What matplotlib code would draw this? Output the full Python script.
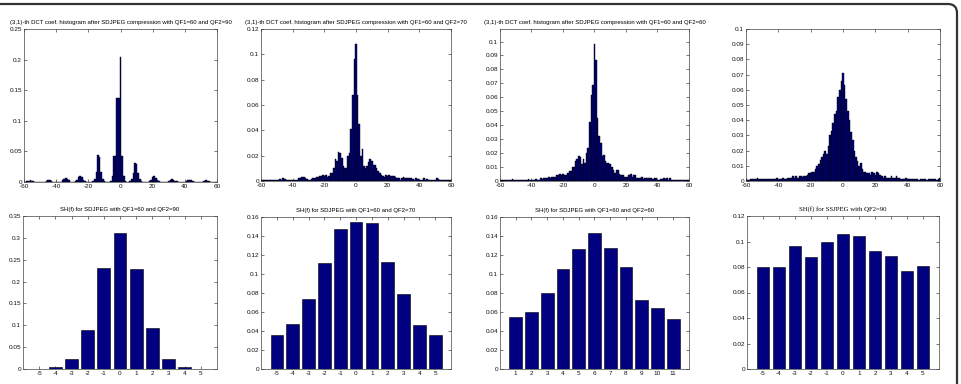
import matplotlib
matplotlib.use('Agg')
import matplotlib.pyplot as plt
import numpy as np
from matplotlib.patches import FancyBboxPatch
from matplotlib.transforms import IdentityTransform

plt.rcParams['font.family'] = ['Liberation Sans', 'DejaVu Sans']
plt.rcParams['axes.unicode_minus'] = False

W, H = 961, 384

## DATA: (3,1)-th DCT coefficient histograms, bins -60..60
bins = np.arange(-60, 61)

hist_qf90 = [
    0.0005, 0.0005, 0.002, 0.002, 0.0025, 0.002, 0.002, 0.0005, 0, 0,
    0, 0, 0, 0.0005, 0.002, 0.003, 0.003, 0.002, 0.0005, 0,
    0, 0, 0, 0.0005, 0.003, 0.005, 0.006, 0.005, 0.003, 0.0005,
    0, 0, 0.001, 0.004, 0.008, 0.009, 0.008, 0.004, 0.001, 0,
    0, 0, 0, 0.001, 0.005, 0.016, 0.044, 0.041, 0.016, 0.005,
    0.001, 0, 0, 0, 0.002, 0.010, 0.043, 0.043, 0.137, 0.137,
    0.205,
    0.043, 0.010, 0.002, 0, 0, 0.001, 0.005, 0.015, 0.031, 0.030,
    0.015, 0.005, 0.001, 0, 0, 0, 0, 0.001, 0.004, 0.008,
    0.010, 0.007, 0.003, 0.001, 0, 0, 0, 0, 0, 0.001,
    0.003, 0.005, 0.004, 0.002, 0.001, 0, 0, 0, 0, 0,
    0.001, 0.003, 0.004, 0.003, 0.001, 0, 0, 0, 0, 0,
    0.0005, 0.002, 0.003, 0.002, 0.001, 0.0005, 0, 0, 0, 0,
]

hist_qf70 = [
    0.001, 0.001, 0.001, 0.0005, 0.001, 0.001, 0.0005, 0.001, 0.0005, 0.0005,
    0.001, 0.001, 0.0015, 0.001, 0.002, 0.0015, 0.001, 0.001, 0.0005, 0.001,
    0.001, 0.0005, 0.001, 0.001, 0.002, 0.002, 0.0035, 0.003, 0.002, 0.0015,
    0.001, 0.001, 0.0015, 0.002, 0.002, 0.003, 0.003, 0.004, 0.004, 0.0045,
    0.004, 0.005, 0.003, 0.004, 0.006, 0.006, 0.010, 0.017, 0.016, 0.023,
    0.022, 0.018, 0.012, 0.010, 0.010, 0.020, 0.022, 0.041, 0.068, 0.096,
    0.108,
    0.068, 0.045, 0.020, 0.025, 0.012, 0.010, 0.012, 0.015, 0.017, 0.016,
    0.013, 0.013, 0.010, 0.008, 0.006, 0.005, 0.004, 0.003, 0.005, 0.004,
    0.005, 0.004, 0.004, 0.004, 0.003, 0.002, 0.002, 0.001, 0.002, 0.003,
    0.002, 0.002, 0.0025, 0.002, 0.002, 0.0015, 0.001, 0.002, 0.0015, 0.001,
    0.001, 0.001, 0.002, 0.001, 0.0015, 0.001, 0.001, 0.0005, 0.001, 0.001,
    0.0025, 0.0015, 0.001, 0.001, 0.001, 0.0005, 0.0005, 0.001, 0.0005, 0.001,
]

hist_qf60 = [
    0.001, 0.0005, 0.001, 0.0005, 0.001, 0.0005, 0.001, 0.001, 0.0015, 0.001,
    0.001, 0.001, 0.0005, 0.001, 0.001, 0.0005, 0.001, 0.001, 0.0015, 0.001,
    0.001, 0.001, 0.001, 0.0015, 0.001, 0.001, 0.002, 0.0015, 0.002, 0.002,
    0.002, 0.003, 0.0025, 0.003, 0.003, 0.003, 0.004, 0.004, 0.005, 0.004,
    0.005, 0.004, 0.004, 0.006, 0.007, 0.007, 0.010, 0.010, 0.014, 0.016,
    0.018, 0.017, 0.012, 0.016, 0.013, 0.020, 0.024, 0.042, 0.062, 0.069,
    0.098,
    0.087, 0.045, 0.032, 0.027, 0.018, 0.019, 0.014, 0.013, 0.013, 0.012,
    0.010, 0.008, 0.006, 0.008, 0.008, 0.005, 0.004, 0.004, 0.003, 0.003,
    0.003, 0.004, 0.005, 0.003, 0.004, 0.004, 0.002, 0.002, 0.002, 0.003,
    0.0015, 0.002, 0.002, 0.0025, 0.002, 0.002, 0.0015, 0.0025, 0.002, 0.001,
    0.001, 0.0015, 0.0015, 0.002, 0.0015, 0.002, 0.001, 0.002, 0.001, 0.0005,
    0.001, 0.001, 0.0005, 0.001, 0.0005, 0.001, 0.001, 0.001, 0.0005, 0.001,
]

hist_single = [
    0.001, 0.0005, 0.0005, 0.001, 0.001, 0.001, 0.001, 0.002, 0.0015, 0.001,
    0.001, 0.001, 0.0015, 0.001, 0.001, 0.001, 0.001, 0.001, 0.0015, 0.002,
    0.0005, 0.001, 0.0015, 0.002, 0.0015, 0.001, 0.002, 0.002, 0.002, 0.003,
    0.002, 0.003, 0.002, 0.003, 0.003, 0.0025, 0.003, 0.003, 0.004, 0.005,
    0.005, 0.006, 0.006, 0.008, 0.010, 0.011, 0.014, 0.016, 0.018, 0.020,
    0.018, 0.023, 0.030, 0.033, 0.038, 0.044, 0.046, 0.055, 0.060, 0.066,
    0.071,
    0.063, 0.054, 0.046, 0.040, 0.032, 0.027, 0.020, 0.016, 0.013, 0.010,
    0.012, 0.008, 0.006, 0.006, 0.005, 0.005, 0.004, 0.006, 0.005, 0.004,
    0.006, 0.005, 0.004, 0.003, 0.002, 0.003, 0.002, 0.002, 0.002, 0.003,
    0.002, 0.002, 0.0035, 0.002, 0.002, 0.001, 0.0015, 0.001, 0.002, 0.001,
    0.001, 0.001, 0.001, 0.001, 0.0015, 0.001, 0.0005, 0.001, 0.001, 0.0015,
    0.001, 0.0005, 0.001, 0.001, 0.0015, 0.001, 0.001, 0.0005, 0.001, 0.002,
]

## DATA: SH(f) bar charts
f_sym = np.arange(-5, 6)
f_idx = np.arange(1, 12)
sh_qf90 = [0.0005, 0.005, 0.022, 0.090, 0.230, 0.310, 0.228, 0.094, 0.022, 0.005, 0.0005]
sh_qf70 = [0.0354, 0.047, 0.074, 0.112, 0.147, 0.155, 0.154, 0.113, 0.079, 0.046, 0.036]
sh_qf60 = [0.0543, 0.0595, 0.080, 0.105, 0.1263, 0.143, 0.127, 0.1076, 0.073, 0.064, 0.053]
sh_single = [0.0803, 0.080, 0.0962, 0.0881, 0.100, 0.106, 0.104, 0.0923, 0.0889, 0.0766, 0.081]

t_hist = '(3,1)-th DCT coef. histogram after SDJPEG compression with QF1=60 and QF2=%d'
t_sh = 'SH(f) for SDJPEG with QF1=60 and QF2=%d'

navy = '#000080'
fs = 4.3

fig = plt.figure(figsize=(W/100, H/100), dpi=100)
fig.patch.set_facecolor('white')

# frame of the cropped figure (only top and right edges are visible)
frame = FancyBboxPatch((-30, -30), 30+957, 30+380, boxstyle='round,pad=0,rounding_size=9',
                       transform=IdentityTransform(), fill=False, edgecolor='#333333', linewidth=1.6)
fig.patches.append(frame)


def make_ax(l, t, r, b):
    ax = fig.add_axes([l/W, 1-b/H, (r-l)/W, (b-t)/H])
    for s in ax.spines.values():
        s.set_linewidth(0.5)
        s.set_color('#444444')
    ax.tick_params(direction='in', top=True, right=True, length=2, width=0.4,
                   labelsize=fs+0.3, pad=1.5, colors='#111111')
    return ax


def fmt(v):
    return '%g' % round(v, 3)


def hist_panel(box, h, ymax, yticks, title=None):
    ax = make_ax(*box)
    ax.bar(bins, h, width=1, color=navy, edgecolor='black', linewidth=0.3)
    ax.set_xlim(-60, 60)
    ax.set_ylim(0, ymax)
    ax.set_xticks(range(-60, 61, 20))
    ax.set_yticks(yticks)
    ax.set_yticklabels([fmt(v) for v in yticks])
    if title:
        ax.set_title(title, fontsize=fs, pad=3.5)
    return ax


def sh_panel(box, x, h, ymax, yticks, title, serif=False):
    ax = make_ax(*box)
    ax.bar(x, h, width=0.8, color=navy, edgecolor='black', linewidth=0.4)
    ax.set_xlim(x[0]-1, x[-1]+1)
    ax.set_ylim(0, ymax)
    ax.set_xticks(x)
    ax.set_yticks(yticks)
    ax.set_yticklabels([fmt(v) for v in yticks])
    if serif:
        ax.set_title(title, fontsize=fs+0.6, pad=3.5, family='Liberation Serif')
    else:
        ax.set_title(title, fontsize=fs, pad=3.5)
    return ax


# top row: histograms
hist_panel((24, 29, 217, 182), hist_qf90, 0.25, np.arange(0, 0.26, 0.05), t_hist % 90)
hist_panel((261, 29, 451, 181), hist_qf70, 0.12, np.arange(0, 0.121, 0.02), t_hist % 70)
hist_panel((500, 29, 689, 181), hist_qf60, 0.109, np.arange(0, 0.101, 0.01), t_hist % 60)
hist_panel((746, 29, 940, 181), hist_single, 0.1, np.arange(0, 0.101, 0.01))

# bottom row: SH(f)
sh_panel((23, 216, 217, 369), f_sym, sh_qf90, 0.35, np.arange(0, 0.351, 0.05), t_sh % 90)
sh_panel((261, 217, 451, 369), f_sym, sh_qf70, 0.16, np.arange(0, 0.161, 0.02), t_sh % 70)
sh_panel((500, 217, 689, 369), f_idx, sh_qf60, 0.16, np.arange(0, 0.161, 0.02), t_sh % 60)
sh_panel((747, 216, 939, 369), f_sym, sh_single, 0.12, np.arange(0, 0.121, 0.02),
         'SH(f) for SSJPEG with QF2=90', serif=True)

plt.savefig('out.png', dpi=100)
